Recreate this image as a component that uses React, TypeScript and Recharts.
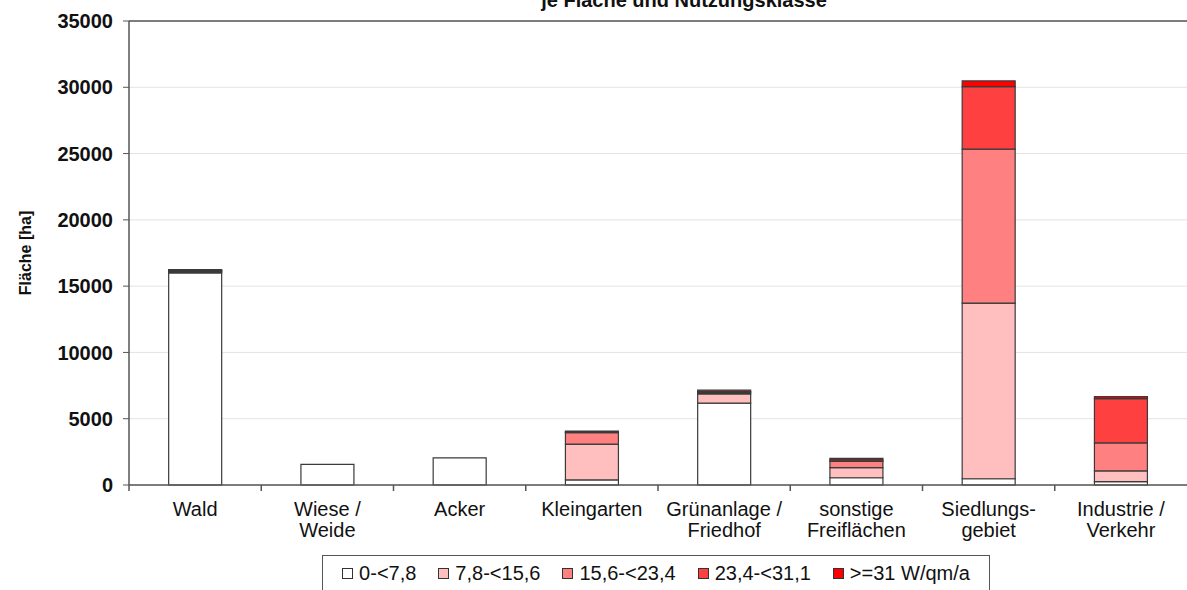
import React from "react";
import {
  BarChart, Bar, XAxis, YAxis, CartesianGrid, ReferenceLine,
} from "recharts";

// Flächen [ha] je Nutzungsklasse
const categories = [
  "Wald",
  "Wiese /\nWeide",
  "Acker",
  "Kleingarten",
  "Grünanlage /\nFriedhof",
  "sonstige\nFreiflächen",
  "Siedlungs-\ngebiet",
  "Industrie /\nVerkehr",
];

const klasse1 = [16000, 1550, 2050, 380, 6170, 545, 470, 250];
const klasse2 = [90, 0, 0, 2710, 700, 770, 13250, 810];
const klasse3 = [60, 0, 0, 855, 90, 470, 11610, 2110];
const klasse4 = [40, 0, 0, 60, 80, 110, 4720, 3340];
const klasse5 = [60, 0, 0, 65, 110, 110, 430, 150];

const yTicks = [0, 5000, 10000, 15000, 20000, 25000, 30000, 35000];

const series = [
  { key: "k1", name: "0-<7,8", values: klasse1, fill: "#ffffff" },
  { key: "k2", name: "7,8-<15,6", values: klasse2, fill: "#ffbfbf" },
  { key: "k3", name: "15,6-<23,4", values: klasse3, fill: "#ff8080" },
  { key: "k4", name: "23,4-<31,1", values: klasse4, fill: "#ff4040" },
  { key: "k5", name: ">=31 W/qm/a", values: klasse5, fill: "#ff0000" },
];

const data = categories.map((name, i) => {
  const row: Record<string, string | number> = { name };
  series.forEach((s) => { row[s.key] = s.values[i]; });
  return row;
});

const W = 1187;
const H = 590;
const Y_AXIS_W = 129;
const band = (W - Y_AXIS_W) / categories.length;
const FONT = "'Liberation Sans', Arial, sans-serif";

function CategoryTick(props: any) {
  const { x, y, payload } = props;
  const lines = String(payload.value).split("\n");
  const left = x - band / 2;
  return (
    <g>
      <line x1={left} x2={left} y1={y - 8} y2={y - 2} stroke="#555" strokeWidth={1.5} />
      <text x={x} y={y} textAnchor="middle" fontSize={20} fill="#111" fontFamily={FONT}>
        {lines.map((l, i) => (
          <tspan key={i} x={x} dy={i === 0 ? 23 : 21}>{l}</tspan>
        ))}
      </text>
    </g>
  );
}

function YLabel(props: any) {
  const vb = props.viewBox || { x: 0, y: 0, height: 0 };
  const cx = vb.x + 25;
  const cy = vb.y + vb.height / 2;
  return (
    <text
      x={cx} y={cy} transform={`rotate(-90 ${cx} ${cy})`}
      textAnchor="middle" dominantBaseline="central"
      fontSize={16} fontWeight="bold" fill="#111" fontFamily={FONT}
    >
      Fläche [ha]
    </text>
  );
}

export default function App() {
  return (
    <div style={{
      position: "absolute", left: 0, top: 0, width: W, height: H,
      overflow: "hidden", background: "#fff", fontFamily: FONT,
    }}>
      <BarChart
        width={W} height={H} data={data}
        margin={{ top: 21, right: 0, bottom: 45, left: 0 }}
        barCategoryGap="30%"
      >
        <CartesianGrid vertical={false} stroke="#e3e3e3" />
        <XAxis
          dataKey="name" interval={0} height={60}
          tick={<CategoryTick />} tickLine={false} tickSize={6} tickMargin={2}
          axisLine={{ stroke: "#555", strokeWidth: 1.5 }}
        />
        <YAxis
          width={Y_AXIS_W} domain={[0, 35000]} ticks={yTicks} interval={0}
          tick={{ fontSize: 20, fontWeight: "bold", fill: "#111", fontFamily: FONT }}
          tickSize={6} tickMargin={10}
          tickLine={{ stroke: "#555" }} axisLine={{ stroke: "#555", strokeWidth: 1.5 }}
          label={<YLabel />}
        />
        <ReferenceLine y={35000} stroke="#555" strokeWidth={1.5} />
        {series.map((s) => (
          <Bar
            key={s.key} dataKey={s.key} name={s.name} stackId="a"
            fill={s.fill} stroke="#3a3a3a" strokeWidth={1.2}
            isAnimationActive={false}
          />
        ))}
      </BarChart>

      <svg width={W} height={H} style={{ position: "absolute", left: 0, top: 0, pointerEvents: "none" }}>
        <text x={684} y={7} textAnchor="middle" fontSize={20} fontWeight="bold" fill="#111" fontFamily={FONT}>
          je Fläche und Nutzungsklasse
        </text>
      </svg>

      <div style={{
        position: "absolute", left: 322, top: 555, width: 668, height: 40,
        border: "1px solid #555", boxSizing: "border-box",
        display: "flex", alignItems: "flex-start", justifyContent: "center",
        gap: 22, paddingTop: 6, fontSize: 20, color: "#111",
      }}>
        {series.map((s) => (
          <span key={s.key} style={{ display: "flex", alignItems: "center", gap: 6, whiteSpace: "nowrap" }}>
            <span style={{
              display: "inline-block", width: 9, height: 9,
              background: s.fill, border: "1px solid #333",
            }} />
            {s.name}
          </span>
        ))}
      </div>
    </div>
  );
}
